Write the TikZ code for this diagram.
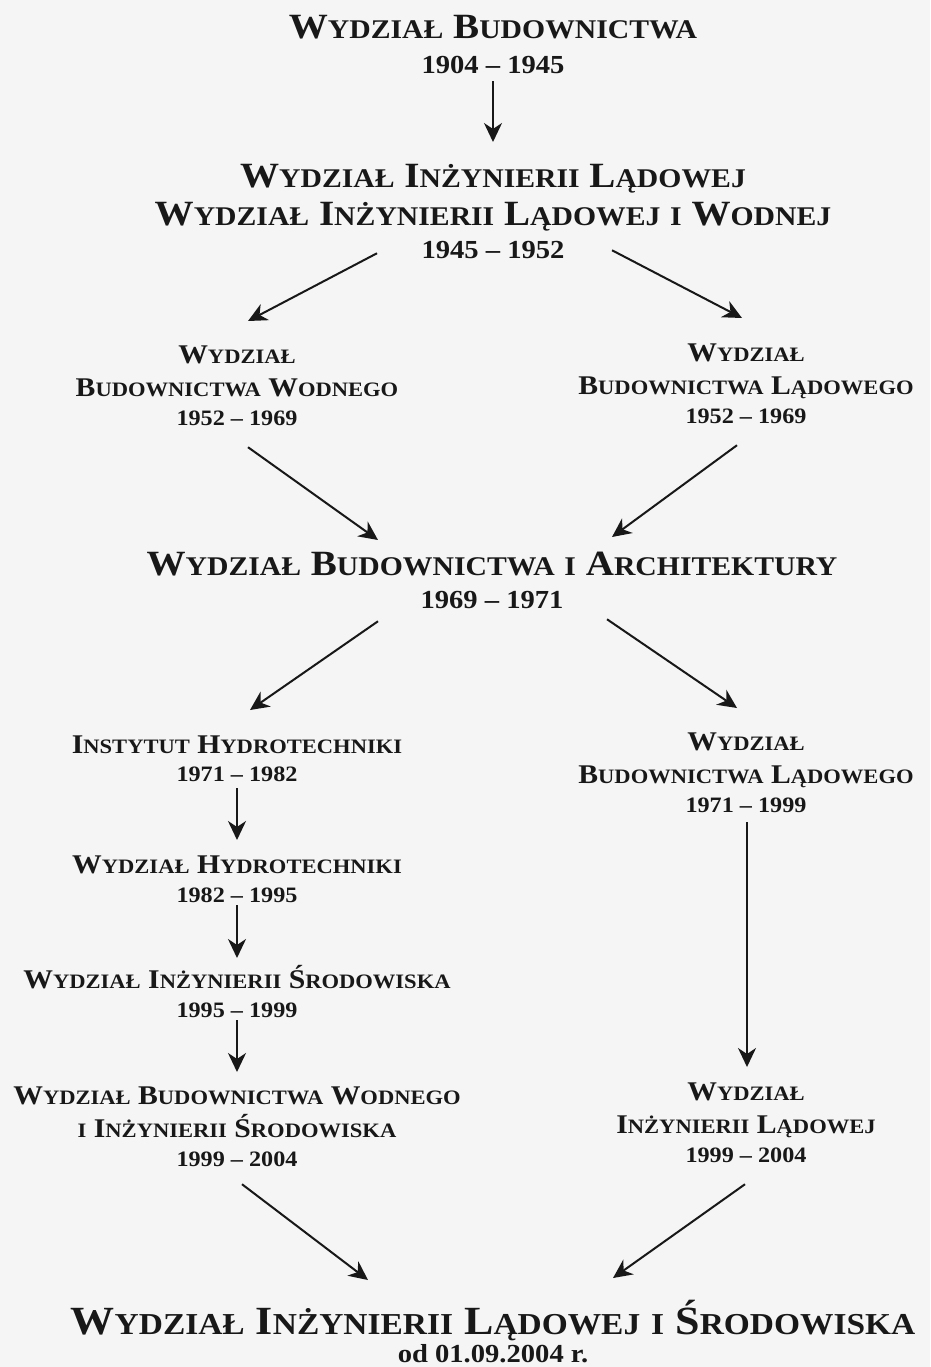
\documentclass[tikz,border=0pt]{standalone}
\usepackage{fontspec}
\setmainfont{Liberation Serif}[FakeStretch=1.1]
\usetikzlibrary{arrows.meta,calc}
\definecolor{bg}{RGB}{245,245,245}
\definecolor{ink}{RGB}{24,24,24}
\def\smsize{27}
\newcommand\sm[1]{{\fontsize{\smsize}{\smsize}\selectfont #1}}
\newcommand\st{\vrule height 30pt width 0pt depth 0pt\relax}
\newcommand\YB[1]{{\fontsize{26}{26}\selectfont #1}}
\newcommand\YS[1]{{\fontsize{22}{22}\selectfont #1}}
\tikzset{
  blk/.style={anchor=north, inner sep=0pt, outer sep=0pt, align=center, text=ink},
  big/.style={font=\bfseries\fontsize{35.5}{#1}\selectfont\def\smsize{27}},
  bigger/.style={font=\bfseries\fontsize{40}{#1}\selectfont\def\smsize{30.4}},
  sub/.style={font=\bfseries\fontsize{27}{#1}\selectfont\def\smsize{20.5}},
  arr/.style={draw=ink, line width=2pt, -{Stealth[length=19pt,width=18pt,inset=6pt]}}
}
\begin{document}
\setlength\lineskiplimit{-100pt}\setlength\lineskip{0pt}
\begin{tikzpicture}[x=1pt,y=-1pt]
\fill[bg] (0,0) rectangle (930,1367);
\useasboundingbox (0,0) rectangle (930,1367);

\node[blk,big=35] (T1) at (493,9) {\st W\sm{YDZIAŁ} B\sm{UDOWNICTWA}\\ \YB{1904 – 1945}};
\node[blk,big=32] (T2) at (493,157) {\st W\sm{YDZIAŁ} I\sm{NŻYNIERII} L\sm{ĄDOWEJ}\\[7pt] W\sm{YDZIAŁ} I\sm{NŻYNIERII} L\sm{ĄDOWEJ} \sm{I} W\sm{ODNEJ}\\ \YB{1945 – 1952}};
\node[blk,sub=29] (L1) at (237,333) {\st W\sm{YDZIAŁ}\\[4pt] B\sm{UDOWNICTWA} W\sm{ODNEGO}\\ \YS{1952 – 1969}};
\node[blk,sub=29] (R1) at (746,331) {\st W\sm{YDZIAŁ}\\[4pt] B\sm{UDOWNICTWA} L\sm{ĄDOWEGO}\\ \YS{1952 – 1969}};
\node[blk,big=33] (M) at (492,545) {\st W\sm{YDZIAŁ} B\sm{UDOWNICTWA} \sm{I} A\sm{RCHITEKTURY}\\ \YB{1969 – 1971}};
\node[blk,sub=28] (L2) at (237,723) {\st I\sm{NSTYTUT} H\sm{YDROTECHNIKI}\\ \YS{1971 – 1982}};
\node[blk,sub=29] (L3) at (237,843) {\st W\sm{YDZIAŁ} H\sm{YDROTECHNIKI}\\ \YS{1982 – 1995}};
\node[blk,sub=29] (L4) at (237,958) {\st W\sm{YDZIAŁ} I\sm{NŻYNIERII} Ś\sm{RODOWISKA}\\ \YS{1995 – 1999}};
\node[blk,sub=29] (L5) at (237,1074) {\st W\sm{YDZIAŁ} B\sm{UDOWNICTWA} W\sm{ODNEGO}\\[4pt] \sm{I} I\sm{NŻYNIERII} Ś\sm{RODOWISKA}\\ \YS{1999 – 2004}};
\node[blk,sub=29] (R2) at (746,720) {\st W\sm{YDZIAŁ}\\[4pt] B\sm{UDOWNICTWA} L\sm{ĄDOWEGO}\\ \YS{1971 – 1999}};
\node[blk,sub=29] (R3) at (746,1070) {\st W\sm{YDZIAŁ}\\[4pt] I\sm{NŻYNIERII} L\sm{ĄDOWEJ}\\ \YS{1999 – 2004}};
\node[blk,bigger=28] (B) at (493,1300) {\st W\sm{YDZIAŁ} I\sm{NŻYNIERII} L\sm{ĄDOWEJ} \sm{I} Ś\sm{RODOWISKA}\\ \YB{od 01.09.2004 r.}};

\draw[arr] ([yshift=-7pt]T1.south) -- ([yshift=15pt]T2.north);
\draw[arr] ([xshift=-116pt,yshift=5pt]T2.south) -- ([xshift=11pt,yshift=12pt]L1.north);
\draw[arr] ([xshift=119pt,yshift=8pt]T2.south) -- ([xshift=-4pt,yshift=13pt]R1.north);
\draw[arr] ([xshift=11pt,yshift=-22pt]L1.south) -- ([xshift=-114pt,yshift=5pt]M.north);
\draw[arr] ([xshift=-9pt,yshift=-22pt]R1.south) -- ([xshift=120pt,yshift=8pt]M.north);
\draw[arr] ([xshift=-114pt,yshift=-13pt]M.south) -- ([xshift=13pt,yshift=13pt]L2.north);
\draw[arr] ([xshift=115pt,yshift=-11pt]M.south) -- ([xshift=-9pt,yshift=12pt]R2.north);
\draw[arr] ([yshift=-7pt]L2.south) -- ([yshift=3pt]L3.north);
\draw[arr] ([yshift=-3pt]L3.south) -- (L4.north);
\draw[arr] ([yshift=-3pt]L4.south) -- ([yshift=2pt]L5.north);
\draw[arr] ([xshift=1pt,yshift=-10pt]R2.south) -- ([xshift=1pt,yshift=3pt]R3.north);
\draw[arr] ([xshift=5pt,yshift=-18pt]L5.south) -- ([xshift=-125pt,yshift=20pt]B.north);
\draw[arr] ([xshift=-1pt,yshift=-22pt]R3.south) -- ([xshift=120pt,yshift=22pt]B.north);
\end{tikzpicture}
\end{document}
